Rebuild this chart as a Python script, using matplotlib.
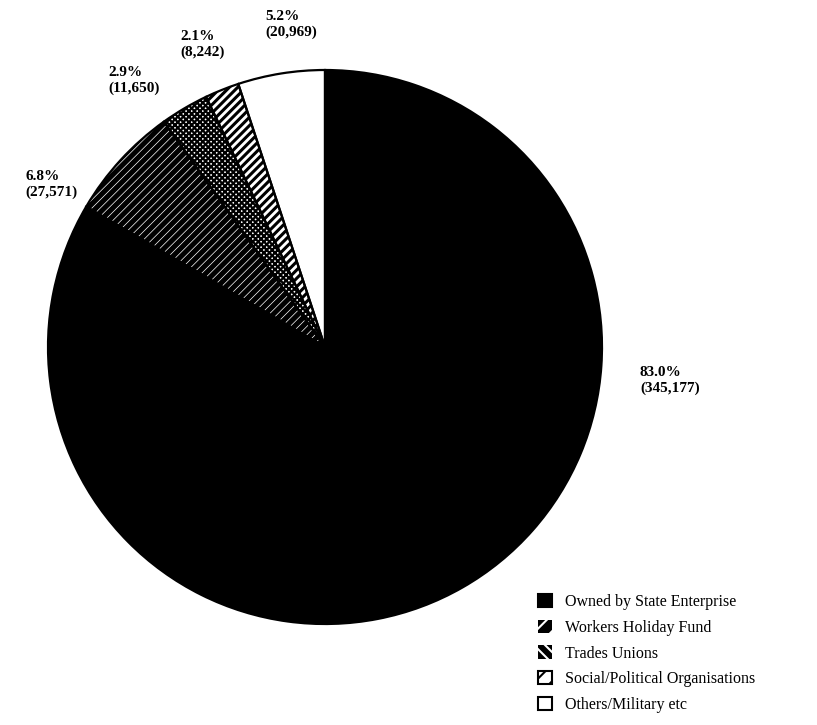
import matplotlib.pyplot as plt
from matplotlib.patches import Wedge, Patch

plt.rcParams['font.family'] = ['Liberation Serif', 'DejaVu Serif']

categories = ['Owned by State Enterprise', 'Workers Holiday Fund', 'Trades Unions',
              'Social/Political Organisations', 'Others/Military etc']
beds = [345177, 27571, 11650, 8242, 20969]
shares = [83.0, 6.8, 2.9, 2.1, 5.2]

faces = ['black', 'black', 'white', 'white', 'white']
hatch_cols = ['black', 'white', 'black', 'black', 'black']
hatches = [None, '////', 'xxxxxx', '////', None]
hatch_lw = [1.0, 0.5, 1.6, 2.2, 1.0]

fig = plt.figure(figsize=(8.17, 7.25), dpi=100)
W, H = 817, 725
cx, cy, r = 325, 347, 277
ax = fig.add_axes([(cx - r) / W, (H - cy - r) / H, 2 * r / W, 2 * r / H])

wedges, _ = ax.pie(beds, startangle=90, counterclock=False, radius=1.0)
for w, fc, hc, h, hl in zip(wedges, faces, hatch_cols, hatches, hatch_lw):
    w.set_facecolor(fc)
    w.set_edgecolor(hc)
    w.set_linewidth(0)
    w.set_clip_on(False)
    if h:
        w.set_hatch(h)
        if hasattr(w, 'set_hatch_linewidth'):
            w.set_hatch_linewidth(hl)
    # black outline drawn on top
    ax.add_patch(Wedge(w.center, w.r, w.theta1, w.theta2, fill=False,
                       edgecolor='black', linewidth=1.6, zorder=3, clip_on=False))
ax.set_xlim(-1, 1)
ax.set_ylim(-1, 1)
ax.axis('off')

# value labels, positioned in pixel space
label_pos = [(640, 366), (25, 170), (108, 66), (180, 30), (265, 10)]
for (x, y), pct, n in zip(label_pos, shares, beds):
    fig.text(x / W, 1 - y / H, f"{pct:.1f}%\n({n:,})", ha='left', va='top',
             fontsize=11, fontweight='bold', linespacing=1.25)

# legend keys
key_faces = ['black', 'black', 'black', 'white', 'white']
key_edges = ['black', 'white', 'white', 'black', 'black']
key_hatch = [None, '//', '\\\\\\', '//', None]
handles = [Patch(facecolor=fc, edgecolor=ec, hatch=h)
           for fc, ec, h in zip(key_faces, key_edges, key_hatch)]
leg = fig.legend(handles, categories, loc='upper left',
                 bbox_to_anchor=(530 / W, 1 - 586 / H),
                 frameon=False, fontsize=11.5, handlelength=0.9, handleheight=0.9,
                 labelspacing=0.6, handletextpad=0.8, borderpad=0)
# black borders only around the plain keys
for p, ec in zip(leg.get_patches(), key_edges):
    p.set_linewidth(1.5 if ec == 'black' else 0)
    if hasattr(p, 'set_hatch_linewidth'):
        p.set_hatch_linewidth(1.5)

fig.savefig('out.png', dpi=100)
